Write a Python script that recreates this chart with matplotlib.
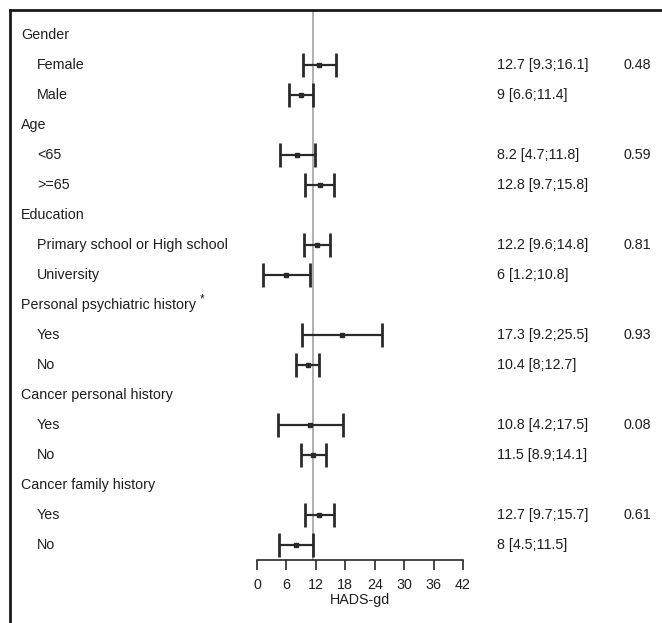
import matplotlib.pyplot as plt
from matplotlib.lines import Line2D
from matplotlib.transforms import blended_transform_factory

plt.rcParams['font.family'] = ['Liberation Sans', 'DejaVu Sans']

# Subgroup table: headers and their levels
groups = ['Gender', 'Age', 'Education', 'Personal psychiatric history',
          'Cancer personal history', 'Cancer family history']
levels = [['Female', 'Male'], ['<65', '>=65'],
          ['Primary school or High school', 'University'],
          ['Yes', 'No'], ['Yes', 'No'], ['Yes', 'No']]
means = [[12.7, 9], [8.2, 12.8], [12.2, 6], [17.3, 10.4], [10.8, 11.5], [12.7, 8]]
lower = [[9.3, 6.6], [4.7, 9.7], [9.6, 1.2], [9.2, 8], [4.2, 8.9], [9.7, 4.5]]
upper = [[16.1, 11.4], [11.8, 15.8], [14.8, 10.8], [25.5, 12.7], [17.5, 14.1], [15.7, 11.5]]
pvals = ['0.48', '0.59', '0.81', '0.93', '0.08', '0.61']
overall = 11.4
xticks = [0, 6, 12, 18, 24, 30, 36, 42]

W, H = 662, 623
fig = plt.figure(figsize=(W / 100, H / 100), dpi=100)

ax_left, ax_right = 257, 463
ax_top, ax_bot = 10, 560
ax = fig.add_axes([ax_left / W, 1 - ax_bot / H, (ax_right - ax_left) / W, (ax_bot - ax_top) / H])
row0, step = 35, 30
ax.set_xlim(0, 42)
ax.set_ylim(-(ax_bot - row0) / step, (row0 - ax_top) / step)

tc = '#1e1e1e'
lc = '#2a2a2a'
fs = 10.3
trans = blended_transform_factory(fig.transFigure, ax.transData)

ax.axvline(overall, color='#9a9a9a', lw=1.1, zorder=1)

row = 0
for g, name in enumerate(groups):
    hdr = fig.text(21 / W, 0, name, transform=trans, fontsize=fs, color=tc, va='center')
    hdr.set_y(-row)
    if name.startswith('Personal'):
        fig.canvas.draw()
        bb = hdr.get_window_extent()
        ax.text(bb.x1 / W + 4 / W, -row + 0.2, '*', transform=trans, fontsize=8.5,
                color=tc, va='center')
    row += 1
    for k, lev in enumerate(levels[g]):
        y = -row
        ax.text(37 / W, y, lev, transform=trans, fontsize=fs, color=tc, va='center')
        ax.plot([lower[g][k], upper[g][k]], [y, y], color=lc, lw=1.6, solid_capstyle='butt', zorder=3)
        for cap in (lower[g][k], upper[g][k]):
            ax.plot([cap, cap], [y - 0.4, y + 0.4], color=lc, lw=2, solid_capstyle='butt', zorder=3)
        ax.plot(means[g][k], y, marker='s', ms=3, color=lc, zorder=4)
        ci = f'{means[g][k]:g} [{lower[g][k]:g};{upper[g][k]:g}]'
        ax.text(497 / W, y, ci, transform=trans, fontsize=fs, color=tc, va='center')
        if k == 0:
            ax.text(623 / W, y, pvals[g], transform=trans, fontsize=fs, color=tc, va='center')
        row += 1

for s in ['top', 'right', 'left']:
    ax.spines[s].set_visible(False)
ax.spines['bottom'].set_color(lc)
ax.spines['bottom'].set_linewidth(1.2)
ax.set_yticks([])
ax.set_xticks(xticks)
ax.tick_params(axis='x', length=7, width=1.2, color=lc, labelsize=fs, labelcolor=tc, pad=6)
ax.set_xlabel('HADS-gd', fontsize=fs, color=tc, labelpad=1)

# frame lines along top and left
fig.add_artist(Line2D([10 / W, 1], [1 - 10 / H, 1 - 10 / H], transform=fig.transFigure, color='#1a1a1a', lw=2))
fig.add_artist(Line2D([10 / W, 10 / W], [0, 1 - 10 / H], transform=fig.transFigure, color='#1a1a1a', lw=2))

fig.savefig('out.png', dpi=100)
